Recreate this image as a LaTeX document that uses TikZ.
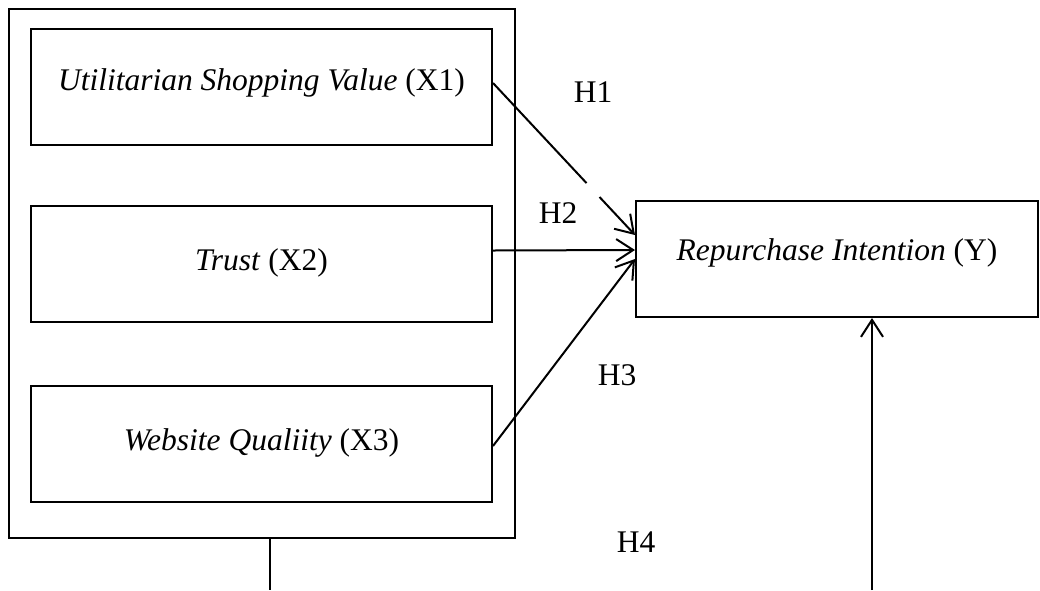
\documentclass[tikz,border=0pt]{standalone}
\usepackage{fontspec}
\setmainfont{Liberation Serif}
\usetikzlibrary{arrows.meta}

\begin{document}
\begin{tikzpicture}[x=1pt, y=-1pt, >={Straight Barb[length=17pt,width=22pt]}, line width=2pt]
    \tikzstyle{varbox}=[draw,shape=rectangle,minimum width=461pt,minimum height=116pt,inner sep=0pt,font=\fontsize{31.5}{38}\selectfont]
    \tikzstyle{hyplabel}=[font=\fontsize{31.5}{38}\selectfont]
    \useasboundingbox (0,0) rectangle (1040,590);

    % draw variables
    \node [draw,minimum width=506pt,minimum height=529pt] (group) at (262,273.5) {};

    \foreach \t/\d/\y [count=\i] in {{\textit{Utilitarian Shopping Value} (X1)}/15/87, {\textit{Trust} (X2)}/8/263.5, {\textit{Website Qualiity} (X3)}/9/444}
    \node [varbox, text depth=\d pt] (x\i) at (261.5,\y) {\t};

    \node [varbox, minimum width=402pt, text depth=19pt] (y) at (837,259) {\textit{Repurchase Intention} (Y)};

    % draw hypotheses
    \foreach \h/\x/\y in {1/593/92, 2/558/213, 3/617/375, 4/636/542}
    \node [hyplabel] (h\h) at (\x,\y) {H\h};

    % draw lines
    \draw [->, dash pattern=on 137pt off 19pt on 200pt] ([yshift=4pt]x1.east) -- ([yshift=24pt]y.west);
    \draw [->] ([yshift=13pt]x2.east) -- ([yshift=9pt]y.west);
    \draw [->] ([yshift=-2pt]x3.east) -- (y.west);

    \coordinate (g-out) at (270,590);
    \coordinate (y-in) at (872,590);
    \draw (group.south -| g-out) -- (g-out);
    \draw [->] (y-in) -- (y.south -| y-in);

\end{tikzpicture}
\end{document}
